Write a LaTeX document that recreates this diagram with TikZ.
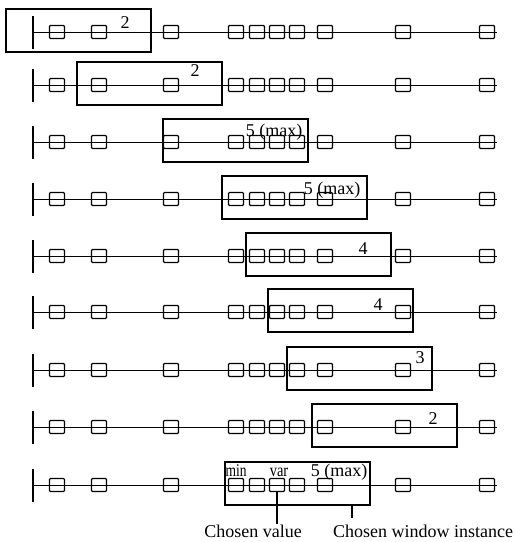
\documentclass[tikz,border=0pt]{standalone}
\usepackage{fontspec}
\setmainfont{Liberation Serif}
\begin{document}
\begin{tikzpicture}[x=1pt,y=-1pt,
  sq/.style={draw, line width=1.3pt, minimum width=15pt, minimum height=13pt, inner sep=0pt, rounded corners=1pt},
  tl/.style={line width=0.9pt},
  bar/.style={line width=2.2pt},
  win/.style={draw, line width=1.1pt, minimum width=145pt, minimum height=43pt, inner sep=0pt},
  lab/.style={font=\fontsize{18}{20}\selectfont, inner sep=0pt, anchor=base},
  tick/.style={line width=1.1pt},
]
\useasboundingbox (0,0) rectangle (515,542);
\foreach \r/\y/\bx in {1/32/78.5, 2/85/149.5, 3/142/235.5, 4/199/294.5, 5/256/318.5, 6/312/340.5, 7/370/359.5, 8/427/384.5, 9/485/297.5}{
  \coordinate (a\r) at (33,\y);
  \coordinate (e\r) at (497,\y);
  \coordinate (bt\r) at (33,\y-16);
  \coordinate (bb\r) at (33,\y+17);
  \draw[tl] (a\r) -- (e\r);
  \draw[bar] (bt\r) -- (bb\r);
  \foreach \x [count=\i] in {57,99,171,236,257,277,297,325,403,487}
    \node[sq] (s\r-\i) at (\x,\y) {};
  \node[win] (b\r) at (\bx,\y-1.5) {};
}
\foreach \r/\lx/\lb/\lt in {1/125/28/2, 2/195/76/2, 3/274/136/5 (max), 4/332/194/5 (max), 5/363/254/4, 6/378/310/4, 7/420/363/3, 8/433/424/2}
  \node[lab] (l\r) at (\lx,\lb) {\lt};
\node[lab] (lmin) at (236,476) {\scalebox{0.75}[1]{min}};
\node[lab] (lvar) at (279,476) {\scalebox{0.8}[1]{var}};
\node[lab] (lmax) at (339,476) {5 (max)};
\node[lab] (cv) at (253,537) {Chosen value};
\node[lab] (cw) at (423,537) {Chosen window instance};
\coordinate (t2x) at (352,0);
\coordinate (t2e) at (352,518);
\draw[tick] (s9-6.south) -- (s9-6.south |- cv.north);
\draw[tick] (b9.south -| t2x) -- (t2e);
\end{tikzpicture}
\end{document}
